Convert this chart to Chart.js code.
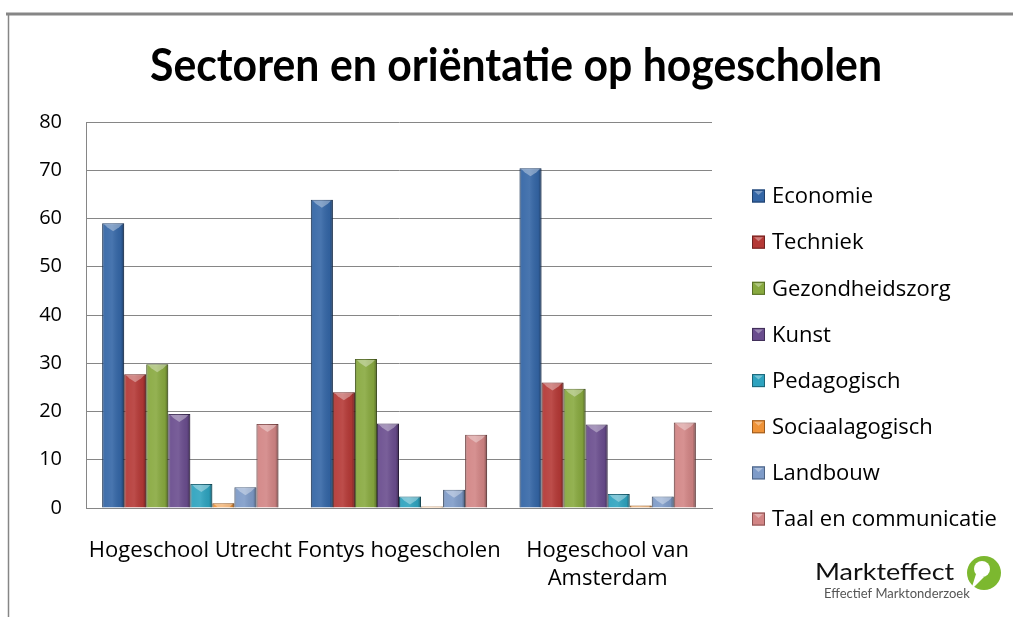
<!DOCTYPE html>
<html>
<head>
<meta charset="utf-8">
<script src="https://cdn.jsdelivr.net/npm/chart.js@4"></script>
<style>
html,body{margin:0;padding:0;background:#fff;}
#wrap{width:1013px;height:617px;position:relative;}
</style>
</head>
<body>
<div id="wrap"><canvas id="c"></canvas></div>
<script>
const categories = ["Hogeschool Utrecht", "Fontys hogescholen", ["Hogeschool van", "Amsterdam"]];
const seriesNames = ["Economie", "Techniek", "Gezondheidszorg", "Kunst", "Pedagogisch", "Sociaalagogisch", "Landbouw", "Taal en communicatie"];
const economie = [59.0, 63.9, 70.4];
const techniek = [27.7, 24.0, 26.0];
const gezondheidszorg = [29.8, 30.9, 24.7];
const kunst = [19.5, 17.5, 17.3];
const pedagogisch = [5.0, 2.4, 2.9];
const sociaalagogisch = [1.0, 0.3, 0.5];
const landbouw = [4.3, 3.8, 2.4];
const taal = [17.4, 15.2, 17.7];
const yTicks = [0, 10, 20, 30, 40, 50, 60, 70, 80];
const titleText = "Sectoren en oriëntatie op hogescholen";

const seriesValues = [economie, techniek, gezondheidszorg, kunst, pedagogisch, sociaalagogisch, landbouw, taal];
const fills = ["#3466a6", "#b53936", "#88a93f", "#6a4d8e", "#2ea3bf", "#ef9338", "#7e9bc8", "#d28585"];
const edges = ["#1f3f6a", "#6e2221", "#566d26", "#412f58", "#1c6577", "#9b5a1e", "#4d6383", "#8a5151"];

const TXT = "'Open Sans', Lato, sans-serif";

const decor = {
  id: 'decor',
  beforeDraw(chart) {
    const ctx = chart.ctx;
    ctx.save();
    ctx.fillStyle = '#fff';
    ctx.fillRect(0, 0, chart.width, chart.height);
    ctx.strokeStyle = '#868686';
    ctx.lineWidth = 3;
    ctx.beginPath();
    ctx.moveTo(6, 14); ctx.lineTo(chart.width, 14);
    ctx.stroke();
    ctx.lineWidth = 1.5;
    ctx.beginPath();
    ctx.moveTo(8.5, 14); ctx.lineTo(8.5, chart.height);
    ctx.stroke();
    // title (horizontally condensed)
    ctx.fillStyle = '#000';
    ctx.font = "bold 46px Lato, sans-serif";
    ctx.textAlign = 'center';
    ctx.textBaseline = 'alphabetic';
    ctx.translate(516, 81);
    ctx.scale(0.93, 1);
    ctx.fillText(titleText, 0, 0);
    ctx.restore();
  },
  afterDatasetsDraw(chart) {
    const ctx = chart.ctx;
    ctx.save();
    chart.data.datasets.forEach((ds, di) => {
      const meta = chart.getDatasetMeta(di);
      meta.data.forEach(bar => {
        const p = bar.getProps(['x', 'y', 'base', 'width'], true);
        const l = p.x - p.width / 2, r = p.x + p.width / 2;
        const top = Math.min(p.y, p.base), bot = Math.max(p.y, p.base);
        const h = bot - top;
        if (h <= 0) return;
        ctx.save();
        ctx.beginPath();
        ctx.rect(l, top, p.width, h);
        ctx.clip();
        const g = ctx.createLinearGradient(l, 0, r, 0);
        g.addColorStop(0, 'rgba(0,0,0,0.30)');
        g.addColorStop(0.12, 'rgba(255,255,255,0.06)');
        g.addColorStop(0.45, 'rgba(255,255,255,0.10)');
        g.addColorStop(0.85, 'rgba(0,0,0,0.06)');
        g.addColorStop(1, 'rgba(0,0,0,0.40)');
        ctx.fillStyle = g;
        ctx.fillRect(l, top, p.width, h);
        // top bevel
        ctx.fillStyle = 'rgba(255,255,255,0.35)';
        ctx.beginPath();
        ctx.moveTo(l + 2, top + 1);
        ctx.lineTo(r - 2, top + 1);
        ctx.lineTo(r - 5, top + 4);
        ctx.lineTo(p.x, top + 8);
        ctx.lineTo(l + 5, top + 4);
        ctx.closePath();
        ctx.fill();
        ctx.restore();
      });
    });
    ctx.restore();
  },
  afterDraw(chart) {
    const ctx = chart.ctx;
    ctx.save();
    // legend from the datasets
    ctx.textAlign = 'left';
    ctx.textBaseline = 'middle';
    ctx.font = "22px " + TXT;
    chart.data.datasets.forEach((ds, i) => {
      const cy = 196 + i * 46.15;
      ctx.fillStyle = ds.backgroundColor;
      ctx.fillRect(752, cy - 6.5, 13, 13);
      ctx.strokeStyle = ds.borderColor;
      ctx.lineWidth = 1;
      ctx.strokeRect(752.5, cy - 6, 12, 12);
      ctx.fillStyle = 'rgba(255,255,255,0.35)';
      ctx.beginPath();
      ctx.moveTo(754, cy - 5); ctx.lineTo(763, cy - 5); ctx.lineTo(758.5, cy - 1);
      ctx.closePath(); ctx.fill();
      ctx.fillStyle = '#000';
      ctx.fillText(ds.label, 772, cy + 1);
    });
    // logo
    ctx.textBaseline = 'alphabetic';
    ctx.save();
    ctx.fillStyle = '#111';
    ctx.font = "23px Lato, sans-serif";
    ctx.translate(815, 580);
    ctx.scale(1.17, 1);
    ctx.fillText('Markteffect', 0, 0);
    ctx.restore();
    ctx.fillStyle = '#555';
    ctx.font = "13px Lato, sans-serif";
    ctx.fillText('Effectief Marktonderzoek', 824, 598);
    ctx.fillStyle = '#7cb82f';
    ctx.beginPath();
    ctx.arc(984, 573, 17, 0, Math.PI * 2);
    ctx.fill();
    ctx.fillStyle = '#fff';
    ctx.beginPath();
    ctx.arc(982, 569, 8, 0, Math.PI * 2);
    ctx.fill();
    ctx.beginPath();
    ctx.moveTo(976, 574); ctx.lineTo(984, 577); ctx.lineTo(971, 590); ctx.closePath();
    ctx.fill();
    ctx.restore();
  }
};

new Chart(document.getElementById('c'), {
  type: 'bar',
  data: {
    labels: categories,
    datasets: seriesNames.map((name, i) => ({
      label: name,
      data: seriesValues[i],
      backgroundColor: fills[i],
      borderColor: edges[i],
      borderWidth: 1
    }))
  },
  options: {
    responsive: true,
    maintainAspectRatio: false,
    animation: false,
    layout: { padding: { left: 8, right: 301, top: 122, bottom: 0 } },
    datasets: { bar: { barPercentage: 1.0, categoryPercentage: 0.845 } },
    scales: {
      x: {
        grid: { display: false },
        border: { display: true, color: '#868686', width: 1 },
        ticks: { color: '#000', font: { family: TXT, size: 22, lineHeight: 1.27 }, padding: 21, maxRotation: 0, autoSkip: false },
        afterFit(s) { s.height = 109; }
      },
      y: {
        min: 0, max: 80,
        afterBuildTicks(s) { s.ticks = yTicks.map(v => ({ value: v })); },
        grid: { color: '#868686', lineWidth: 1, drawTicks: false },
        border: { display: true, color: '#868686', width: 1 },
        ticks: { color: '#000', font: { family: TXT, size: 20 }, padding: 24 },
        afterFit(s) { s.width = 78; }
      }
    },
    plugins: {
      title: { display: false },
      legend: { display: false },
      tooltip: { enabled: false }
    }
  },
  plugins: [decor]
});
</script>
</body>
</html>
